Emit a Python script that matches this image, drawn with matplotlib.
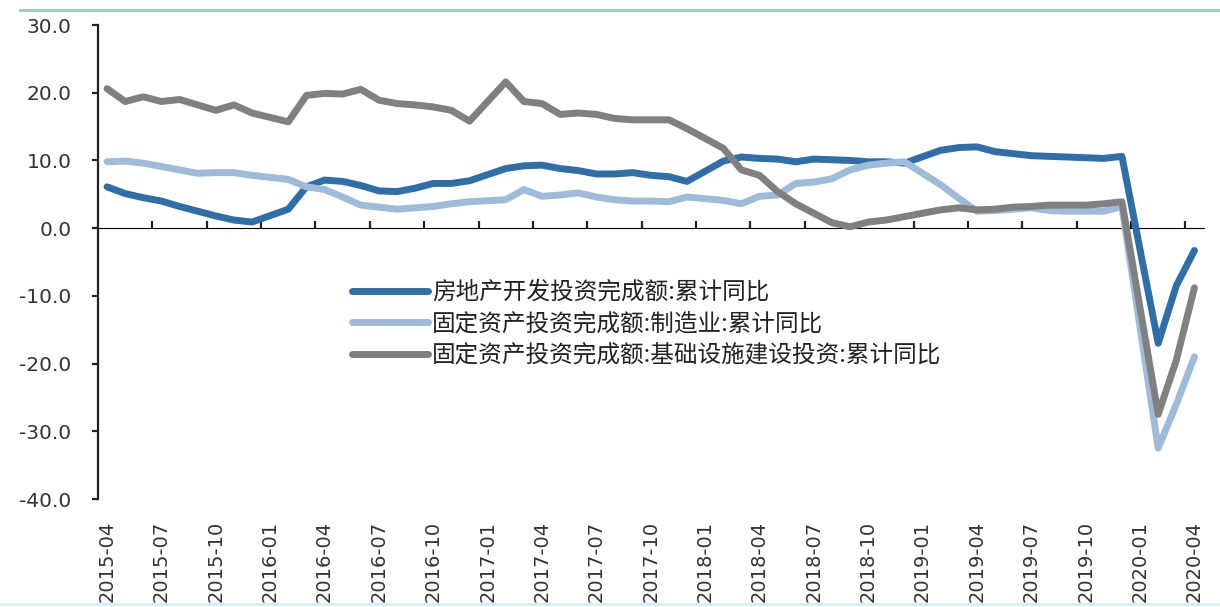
import numpy as np
import pandas as pd
import matplotlib
matplotlib.use("Agg")
import matplotlib.pyplot as plt
from matplotlib.lines import Line2D

# Monthly categories, April 2015 to April 2020 (January figures are not published)
months = pd.period_range("2015-04", "2020-04", freq="M")
nan = np.nan

real_estate = [
    6.1, 5.1, 4.5, 4.0, 3.2, 2.5, 1.8, 1.2, 0.9,
    nan, 2.8, 6.1, 7.1, 6.9, 6.3, 5.5, 5.4, 5.9, 6.6, 6.6, 7.0,
    nan, 8.8, 9.2, 9.3, 8.8, 8.5, 8.0, 8.0, 8.2, 7.8, 7.6, 6.9,
    nan, 9.9, 10.5, 10.3, 10.2, 9.8, 10.2, 10.1, 10.0, 9.8, 9.8, 9.6,
    nan, 11.5, 11.9, 12.0, 11.3, 11.0, 10.7, 10.6, 10.5, 10.4, 10.3, 10.6,
    nan, -17.0, -8.5, -3.3,
]
manufacturing = [
    9.8, 9.9, 9.6, 9.1, 8.6, 8.1, 8.2, 8.2, 7.8,
    nan, 7.2, 6.1, 5.7, 4.6, 3.4, 3.1, 2.8, 3.0, 3.2, 3.6, 3.9,
    nan, 4.2, 5.7, 4.7, 4.9, 5.2, 4.6, 4.2, 4.0, 4.0, 3.9, 4.6,
    nan, 4.1, 3.6, 4.7, 4.9, 6.6, 6.8, 7.3, 8.6, 9.3, 9.6, 9.8,
    nan, 6.4, 4.4, 2.5, 2.6, 2.8, 3.0, 2.6, 2.5, 2.5, 2.5, 3.2,
    nan, -32.5, -26.0, -19.0,
]
infrastructure = [
    20.6, 18.7, 19.4, 18.7, 19.0, 18.2, 17.4, 18.2, 17.0,
    nan, 15.7, 19.6, 19.9, 19.8, 20.5, 18.9, 18.4, 18.2, 17.9, 17.4, 15.8,
    nan, 21.6, 18.7, 18.4, 16.8, 17.0, 16.8, 16.2, 16.0, 16.0, 16.0, 14.7,
    nan, 11.8, 8.6, 7.8, 5.4, 3.6, 2.2, 0.8, 0.2, 0.9, 1.2, 1.7,
    nan, 2.7, 3.0, 2.7, 2.8, 3.1, 3.2, 3.4, 3.4, 3.4, 3.6, 3.9,
    nan, -27.5, -19.5, -8.8,
]

series_names = [
    "房地产开发投资完成额:累计同比",
    "固定资产投资完成额:制造业:累计同比",
    "固定资产投资完成额:基础设施建设投资:累计同比",
]
series_colors = ["#2F6EA8", "#9EBCDA", "#808080"]
y_ticks = [30, 20, 10, 0, -10, -20, -30, -40]

fig = plt.figure(figsize=(12.2, 6.07), dpi=100)
ax = fig.add_axes([98 / 1220, 1 - 499 / 607, (1203.5 - 98) / 1220, (499 - 25) / 607])

pos = np.arange(len(months))
for vals, name, col in zip([real_estate, manufacturing, infrastructure], series_names, series_colors):
    s = pd.Series(vals, index=pos).dropna()
    ax.plot(s.index, s.values, color=col, lw=5.0, solid_joinstyle="round",
            solid_capstyle="round", label=name)

ax.set_xlim(-0.5, len(months) - 0.5)
ax.set_ylim(-40, 30)

# y axis
ax.set_yticks(y_ticks)
ax.set_yticklabels([f"{v:.1f}" for v in y_ticks], fontsize=14.5, color="#333333",
                   family="DejaVu Sans")
ax.tick_params(axis="y", direction="out", length=4, width=1.6, pad=15, color="#222222")
ax.spines["left"].set_linewidth(1.6)
ax.spines["left"].set_color("#222222")
for side in ("top", "right", "bottom"):
    ax.spines[side].set_visible(False)

# category labels along the bottom, every quarter
label_pos = pos[::3]
ax.set_xticks(label_pos)
ax.set_xticklabels([m.strftime("%Y-%m") for m in months[::3]], rotation=90,
                   fontsize=14, color="#333333", family="DejaVu Sans")
ax.tick_params(axis="x", length=0, pad=16)

# horizontal axis line through zero, tick marks between categories
zero_axis = ax.secondary_xaxis(40 / 70)
zero_axis.set_xticks(label_pos[1:] - 0.5)
zero_axis.set_xticklabels([])
zero_axis.tick_params(axis="x", direction="out", length=5, width=1.6, color="#222222")
zero_axis.spines["bottom"].set_linewidth(1.6)
zero_axis.spines["bottom"].set_color("#222222")

leg = ax.legend(loc="upper left", bbox_to_anchor=(352 / 1220, 1 - 281 / 607),
                bbox_transform=fig.transFigure, frameon=False,
                prop={"family": ["Noto Sans CJK SC", "DejaVu Sans"], "size": 17},
                handlelength=3.2, handletextpad=0.2, labelspacing=0.36,
                borderpad=0, borderaxespad=0)
for t in leg.get_texts():
    t.set_color("#222222")

# thin frame lines along the top and bottom edges of the image
fig.add_artist(Line2D([20 / 1220, 1], [1 - 10 / 607] * 2, transform=fig.transFigure,
                      color="#9FCBCF", lw=2.2))
fig.add_artist(Line2D([0, 1], [1 - 604 / 607] * 2, transform=fig.transFigure,
                      color="#D3F0F2", lw=2.0))

fig.savefig("out.png", dpi=100)
